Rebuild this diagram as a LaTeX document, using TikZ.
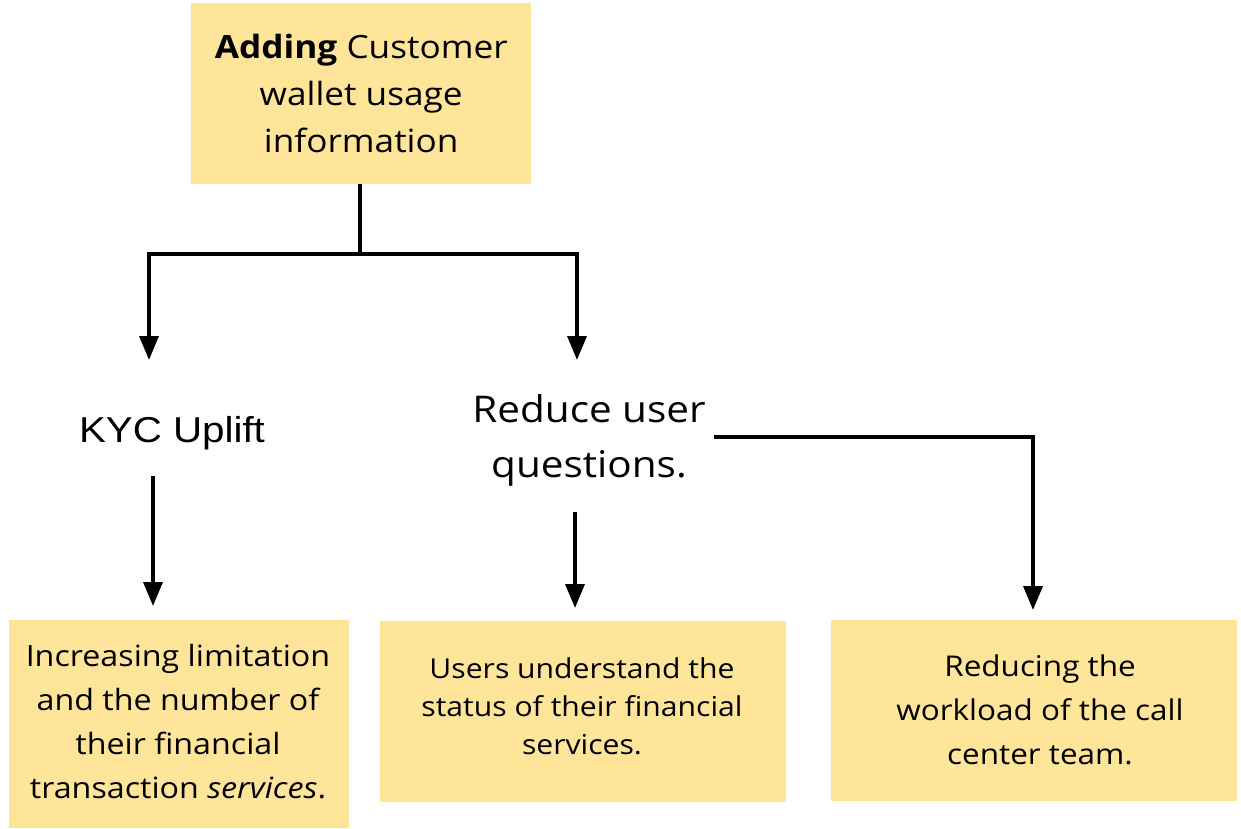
\documentclass[tikz,border=0pt]{standalone}
\usepackage{fontspec}
\setmainfont{Open Sans}[FakeStretch=1.1]
\newfontfamily\kycfont{Liberation Sans}[FakeStretch=1.12]
\usetikzlibrary{arrows.meta}
\definecolor{boxyellow}{HTML}{FFE599}
\tikzset{
  ybox/.style={fill=boxyellow, draw=none, align=center, inner sep=0pt, anchor=north west},
  conn/.style={line width=3.5pt, draw=black, line join=miter},
  arr/.style={conn, -{Triangle[length=24pt,width=19pt]}},
  darr/.style={conn, {Triangle[length=24pt,width=19pt]}-{Triangle[length=24pt,width=19pt]}},
}
\begin{document}
\begin{tikzpicture}[x=1pt,y=-1pt]
\useasboundingbox (0,0) rectangle (1241,829);
% top box
\node[ybox, minimum width=340pt, minimum height=181pt] (top) at (191,3) {};
\node[align=center, font=\fontsize{32}{47}\selectfont] (toptext) at (top.center) {\textbf{Adding} Customer\\wallet usage\\information};
% split
\coordinate (split) at (360,254);
\coordinate (splitL) at (149,254);
\coordinate (splitR) at (577,254);
\coordinate (endL) at (149,360);
\coordinate (endR) at (577,360);
\draw[conn] (top.south -| split) -- (split);
\draw[darr] (endL) -- (splitL) -- (splitR) -- (endR);
% mid labels
\node[font=\kycfont\fontsize{36}{40}\selectfont, inner sep=0pt] (kyc) at (172,433) {KYC Uplift};
\node[align=center, font=\fontsize{36.8}{55}\selectfont, inner sep=0pt] (reduce) at (589,440) {Reduce user\\questions.};
% bottom boxes
\node[ybox, minimum width=340pt, minimum height=208pt] (b1) at (9,620) {};
\node[ybox, minimum width=406pt, minimum height=181pt] (b2) at (380,621) {};
\node[ybox, minimum width=406pt, minimum height=181pt] (b3) at (831,620) {};
\node[align=center, font=\fontsize{29.3}{44}\selectfont] (t1) at (178,722) {Increasing limitation\\and the number of\\their financial\\transaction \textit{services}.};
\node[align=center, font=\fontsize{27.4}{38}\selectfont] (t2) at (582,706) {Users understand the\\status of their financial\\services.};
\node[align=center, font=\fontsize{28.6}{44}\selectfont] (t3) at (1040,710) {Reducing the\\workload of the call\\center team.};
% arrows to bottom
\coordinate (kycS) at (153,476);
\coordinate (kycE) at (153,606);
\draw[arr] (kycS) -- (kycE);
\coordinate (redS) at (575,512);
\coordinate (redE) at (575,608);
\draw[arr] (redS) -- (redE);
\coordinate (redR) at (714,437);
\coordinate (corner) at (1033,437);
\coordinate (redE2) at (1033,610);
\draw[arr] (redR) -- (corner) -- (redE2);
\end{tikzpicture}
\end{document}
